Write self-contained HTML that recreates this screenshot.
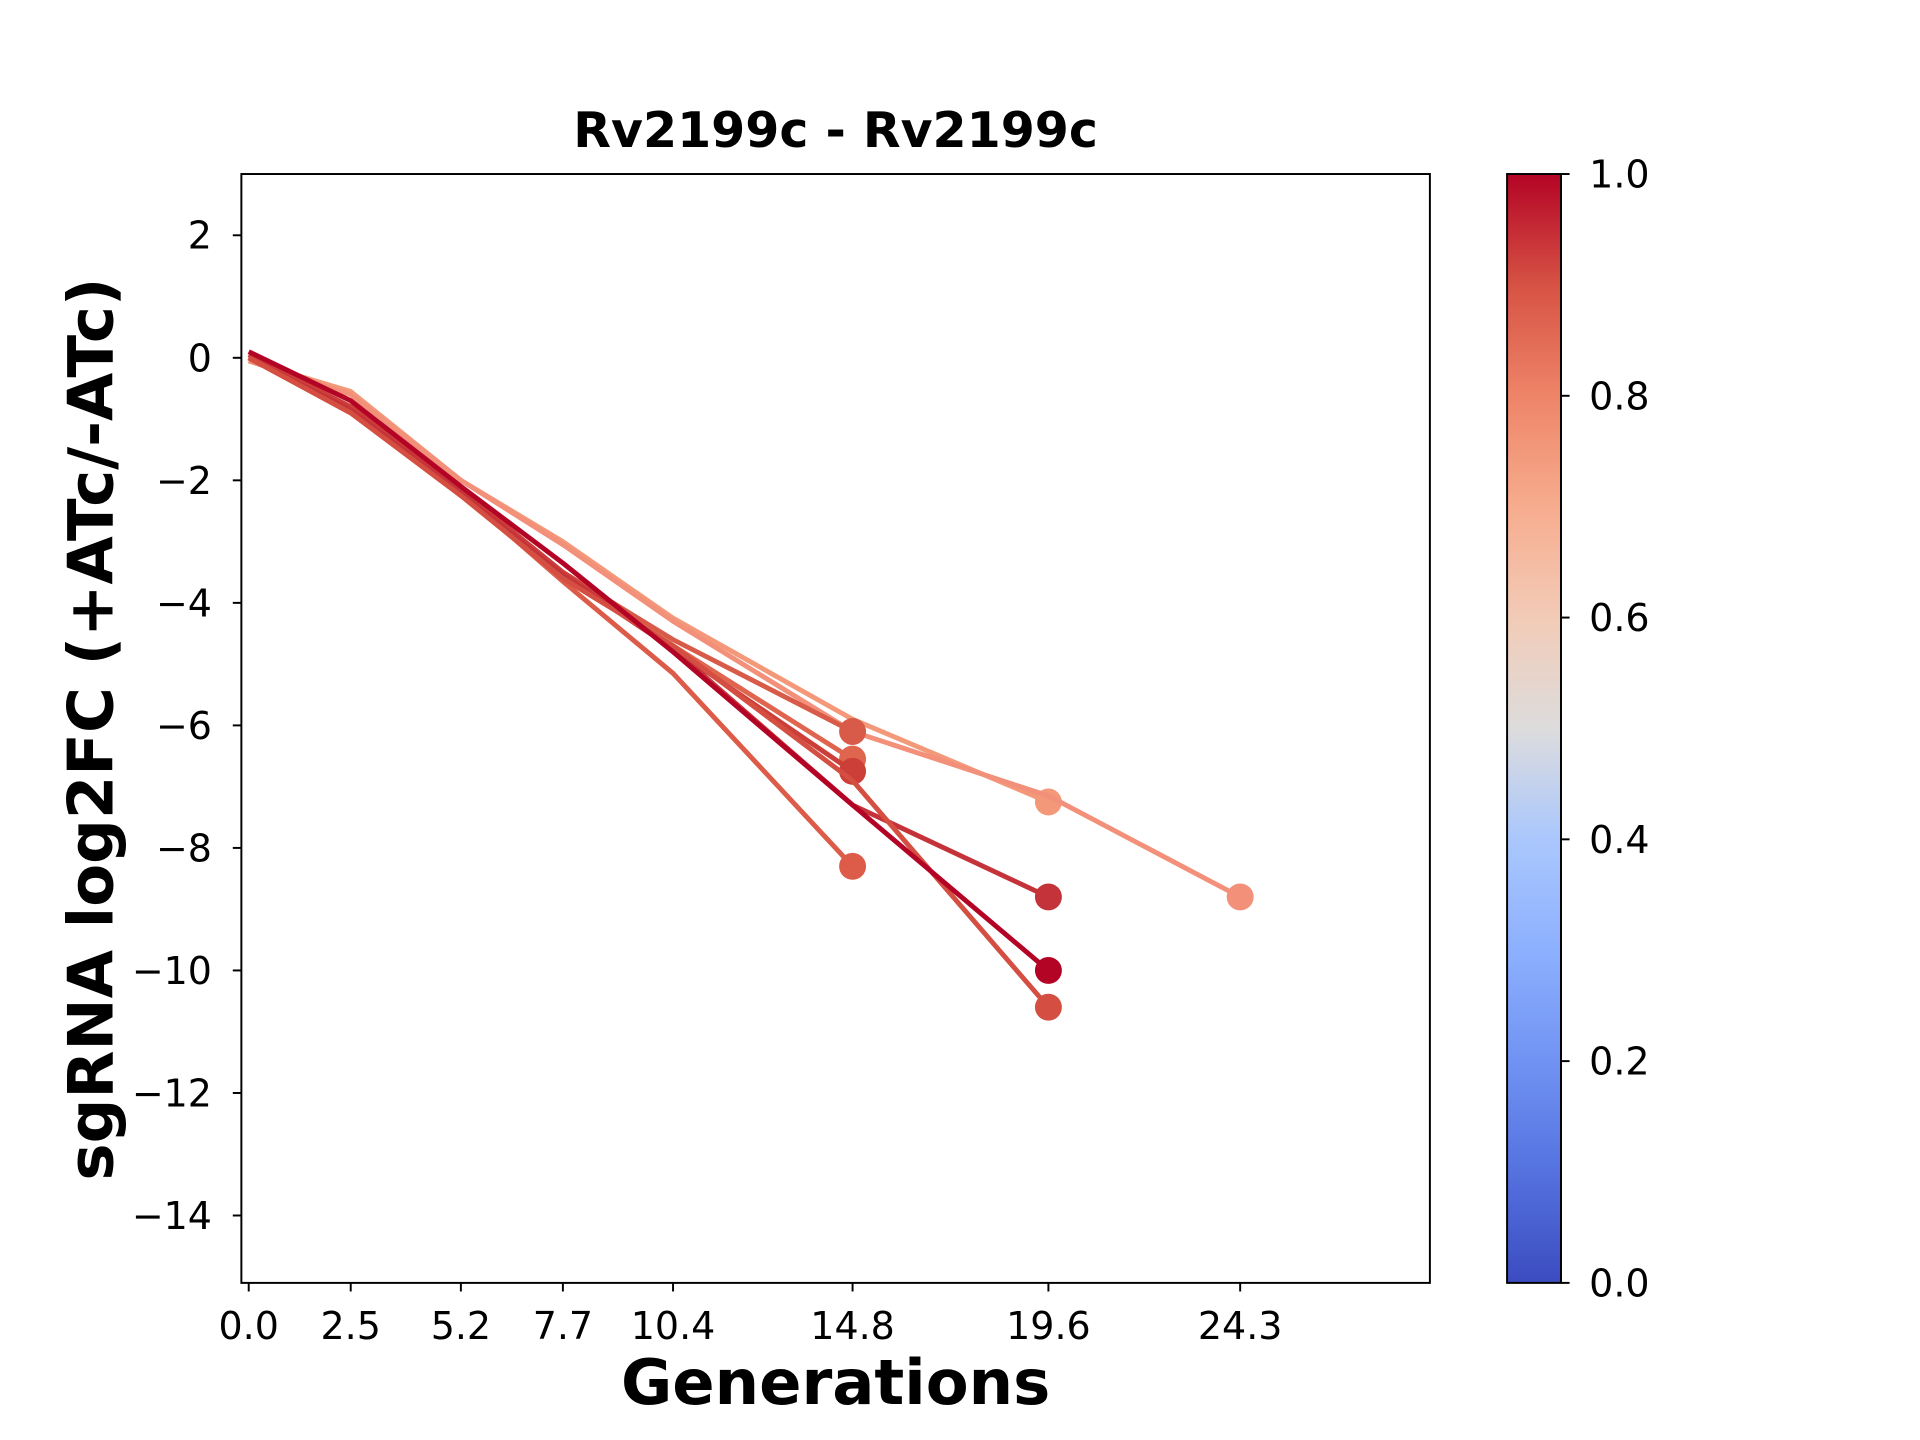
<!DOCTYPE html>
<html><head><meta charset="utf-8"><style>
html,body{margin:0;padding:0;background:#fff}
svg{display:block}
text{font-family:"DejaVu Sans","Liberation Sans",sans-serif;fill:#000}
</style></head><body>
<svg id="chart" width="1920" height="1440" viewBox="0 0 1567 1175.2" xmlns="http://www.w3.org/2000/svg">
<defs>
<linearGradient id="cw" x1="0" y1="1" x2="0" y2="0">
<stop offset="0" stop-color="#3b4cc0"/><stop offset="0.1" stop-color="#5572df"/>
<stop offset="0.2" stop-color="#7093f3"/><stop offset="0.3" stop-color="#8db0fe"/>
<stop offset="0.4" stop-color="#aac7fd"/><stop offset="0.5" stop-color="#dddcdc"/>
<stop offset="0.6" stop-color="#f2cbb7"/><stop offset="0.7" stop-color="#f7ac8e"/>
<stop offset="0.8" stop-color="#ee8468"/><stop offset="0.9" stop-color="#d65244"/>
<stop offset="1" stop-color="#b40426"/>
</linearGradient>
</defs>
<text x="682" y="120" font-size="40" font-weight="bold" text-anchor="middle">Rv2199c - Rv2199c</text>
<g id="plot"></g>
<rect x="197" y="142" width="970" height="905" fill="none" stroke="#000" stroke-width="1.6"/>
<text x="682" y="1146" font-size="51" font-weight="bold" text-anchor="middle">Generations</text>
<text transform="translate(92,595) rotate(-90)" font-size="51" font-weight="bold" text-anchor="middle">sgRNA log2FC (+ATc/-ATc)</text>
<rect x="1230" y="142" width="44" height="905" fill="url(#cw)" stroke="#000" stroke-width="1.6"/>
<g id="cbticks"></g>
</svg>
<script>
const xTicks = [0.0, 2.5, 5.2, 7.7, 10.4, 14.8, 19.6, 24.3];
const xTickLabels = ["0.0","2.5","5.2","7.7","10.4","14.8","19.6","24.3"];
const yTicks = [2, 0, -2, -4, -6, -8, -10, -12, -14];
const cbTicks = [0.0, 0.2, 0.4, 0.6, 0.8, 1.0];
const seriesX = [
  [0, 2.5, 5.2, 7.7, 10.4, 14.8, 19.6],
  [0, 2.5, 5.2, 7.7, 10.4, 14.8, 19.6, 24.3],
  [0, 2.5, 5.2, 7.7, 10.4, 14.8],
  [0, 2.5, 5.2, 7.7, 10.4, 14.8],
  [0, 2.5, 5.2, 7.7, 10.4, 14.8],
  [0, 2.5, 5.2, 7.7, 10.4, 14.8],
  [0, 2.5, 5.2, 7.7, 10.4, 14.8, 19.6],
  [0, 2.5, 5.2, 7.7, 10.4, 14.8, 19.6],
  [0, 2.5, 5.2, 7.7, 10.4, 14.8, 19.6]
];
const seriesY = [
  [-0.05, -0.55, -2.0, -3.0, -4.25, -5.9, -7.25],
  [-0.05, -0.6, -2.0, -3.05, -4.3, -6.1, -7.15, -8.8],
  [0.0, -0.9, -2.2, -3.65, -5.15, -8.3],
  [0.0, -0.8, -2.15, -3.5, -4.6, -6.1],
  [0.0, -0.85, -2.2, -3.55, -4.7, -6.55],
  [0.05, -0.8, -2.15, -3.5, -4.75, -6.75],
  [0.0, -0.85, -2.2, -3.55, -4.75, -7.3, -8.8],
  [0.0, -0.9, -2.25, -3.6, -4.7, -6.9, -10.6],
  [0.1, -0.7, -2.1, -3.35, -4.8, -7.3, -10.0]
];
const seriesColor = ["#f4987a","#f2907a","#dc5b49","#d85a48","#e0654f","#cc3e38","#c5333a","#d44e41","#b40426"];

const L=197,R=1167,T=142,B=1047, xmin=-0.18, xmax=28.95, ymin=-15.1, ymax=3;
const xs=v=>L+(v-xmin)/(xmax-xmin)*(R-L);
const ys=v=>T+(ymax-v)/(ymax-ymin)*(B-T);
const NS="http://www.w3.org/2000/svg";
const svg=document.getElementById('chart');
const plot=document.getElementById('plot');
function mk(tag,attrs,parent){const e=document.createElementNS(NS,tag);for(const k in attrs)e.setAttribute(k,attrs[k]);(parent||svg).appendChild(e);return e;}
for(let i=0;i<seriesX.length;i++){
  const pts=seriesX[i].map((x,j)=>xs(x)+","+ys(seriesY[i][j])).join(" ");
  const pl=mk('polyline',{points:pts,fill:'none',stroke:seriesColor[i],'stroke-width':4,'stroke-linejoin':'round'},plot);
  
  
  const n=seriesX[i].length-1;
  const c=mk('circle',{cx:xs(seriesX[i][n]),cy:ys(seriesY[i][n]),r:11,fill:seriesColor[i]},plot);
  
  
}
xTicks.forEach((v,i)=>{
  const x=xs(v);
  const t=mk('line',{x1:x,x2:x,y1:B,y2:B+7,stroke:'#000','stroke-width':1.6});
  
  
  const l=mk('text',{x:x,y:B+46,'font-size':31,'text-anchor':'middle'});
  l.textContent=xTickLabels[i];
  
  
});
yTicks.forEach(v=>{
  const y=ys(v);
  const t=mk('line',{x1:L-7,x2:L,y1:y,y2:y,stroke:'#000','stroke-width':1.6});
  
  
  const l=mk('text',{x:L-24,y:y+11,'font-size':31,'text-anchor':'end'});
  l.textContent=v<0?'\u2212'+Math.abs(v):String(v);
  
  
});
cbTicks.forEach(v=>{
  const y=1047-v*905;
  const t=mk('line',{x1:1274,x2:1281,y1:y,y2:y,stroke:'#000','stroke-width':1.6});
  
  
  const l=mk('text',{x:1297,y:y+11,'font-size':31});
  l.textContent=v.toFixed(1);
  
  
});
</script>
</body></html>
